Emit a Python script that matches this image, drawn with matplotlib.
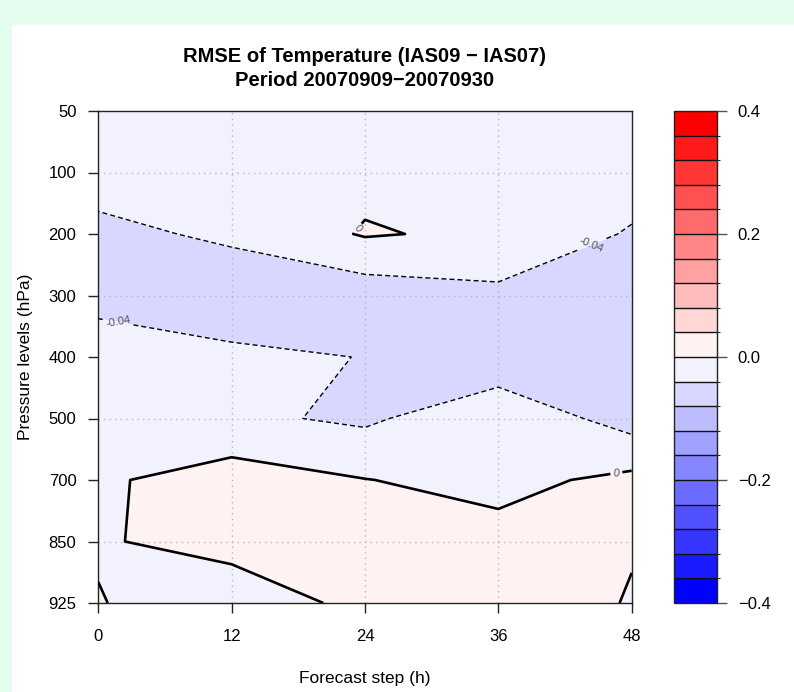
import numpy as np
import matplotlib
matplotlib.use("Agg")
import matplotlib.pyplot as plt
from matplotlib.colors import ListedColormap, BoundaryNorm
from matplotlib.patches import Rectangle

plt.rcParams['font.family'] = ['Liberation Sans', 'DejaVu Sans']

# ---------------- data ----------------
forecast_steps = [0, 12, 24, 36, 48]
pressure_levels = [50, 100, 200, 300, 400, 500, 700, 850, 925]
# RMSE difference (IAS09 - IAS07); rows = pressure levels, columns = forecast steps
rmse_diff = [
    [-0.0200, -0.0200, -0.0200, -0.0200, -0.0200],
    [-0.0250, -0.0200, -0.0110, -0.0200, -0.0200],
    [-0.0487, -0.0340,  0.0033, -0.0077, -0.0438],
    [-0.0500, -0.0620, -0.0627, -0.0491, -0.0600],
    [-0.0235, -0.0330, -0.0408, -0.0700, -0.0600],
    [-0.0200, -0.0320, -0.0470, -0.0088, -0.0576],
    [-0.0059,  0.0188,  0.0010, -0.0121,  0.0102],
    [-0.00485, 0.0194,  0.0200,  0.0136,  0.00208],
    [ 0.0025, -0.0330,  0.0150,  0.0200, -0.0020],
]
fill_levels = np.round(np.linspace(-0.4, 0.4, 21), 2)
line_levels = [-0.04, 0.0]
line_labels = {-0.04: '-0.04', 0.0: '0'}
x_ticks = [0, 12, 24, 36, 48]
cbar_ticks = [-0.4, -0.2, 0.0, 0.2, 0.4]
cbar_ticklabels = ['\u22120.4', '\u22120.2', '0.0', '0.2', '0.4']
title_lines = ['RMSE of Temperature (IAS09 \u2212 IAS07)', 'Period 20070909\u221220070930']

# ---------------- colours (blue - white - red ramp, 20 steps) ----------------
cols = []
for k in range(20):
    t = k / 19
    if t < 0.5:
        f = 2 * t
        cols.append((f, f, 1.0))
    else:
        f = 2 * (1 - t)
        cols.append((1.0, f, f))
cmap = ListedColormap(cols)
norm = BoundaryNorm(fill_levels, cmap.N)

W, H = 794, 692
fig = plt.figure(figsize=(W / 100, H / 100), dpi=100, facecolor='#e4fdee')
fig.patches.append(Rectangle((12 / W, 0), 1 - 12 / W, 667 / H, transform=fig.transFigure,
                             facecolor='white', edgecolor='none', zorder=-10))

def px_axes(l, t, r, b):
    return fig.add_axes([l / W, 1 - b / H, (r - l) / W, (b - t) / H])

ax = px_axes(98.3, 111, 631.7, 603)
cax = px_axes(674.3, 111, 716.7, 603)

yidx = np.arange(1, len(pressure_levels) + 1)
X, Y = np.meshgrid(forecast_steps, yidx)
Z = np.array(rmse_diff)

cf = ax.contourf(X, Y, Z, levels=fill_levels, cmap=cmap, norm=norm, algorithm='mpl2005')

# grid (dotted)
for xv in [12, 24, 36]:
    ax.axvline(xv, color='#b8b8b8', lw=1.0, ls=(0, (1, 3)), zorder=2)
for yv in [2, 4, 6, 8]:
    ax.axhline(yv, color='#b8b8b8', lw=1.0, ls=(0, (1, 3)), zorder=2)

cs = ax.contour(X, Y, Z, levels=line_levels, colors='black',
                linewidths=[1.0, 1.9], linestyles=[(0, (3.6, 2.2)), 'solid'], zorder=3)
ax.clabel(cs, levels=line_levels, fmt=line_labels, inline=True, inline_spacing=3,
          fontsize=8, colors='#555555',
          manual=[(1.8, 4.41), (44.3, 3.13), (23.1, 2.87), (46.6, 6.86)])

ax.set_xlim(0, 48)
ax.set_ylim(len(pressure_levels), 1)
ax.set_xticks(x_ticks)
ax.set_xticklabels([str(v) for v in x_ticks])
ax.set_yticks(yidx)
ax.set_yticklabels([str(p) for p in pressure_levels])
ax.tick_params(axis='both', direction='out', length=7.2, width=1, labelsize=12, color='#222222')
ax.tick_params(axis='x', pad=11.5)
ax.tick_params(axis='y', pad=8.5)
for s in ax.spines.values():
    s.set_linewidth(1)
    s.set_color('#222222')

cb = fig.colorbar(cf, cax=cax, ticks=cbar_ticks, drawedges=True)
cb.set_ticklabels(cbar_ticklabels)
cb.outline.set_linewidth(1)
cb.outline.set_edgecolor('#222222')
cb.dividers.set_color('#111111')
cb.dividers.set_linewidth(1)
cax.tick_params(direction='out', length=7.2, width=1, color='#555555', labelsize=12, pad=8)

fig.text(364.5 / W, 1 - 57 / H, title_lines[0], ha='center', va='center',
         fontsize=14.5, fontweight='bold')
fig.text(364.5 / W, 1 - 81 / H, title_lines[1], ha='center', va='center',
         fontsize=14.5, fontweight='bold')
fig.text(364.5 / W, 1 - 678 / H, 'Forecast step (h)', ha='center', va='center', fontsize=12.5)
fig.text(26 / W, 1 - 357 / H, 'Pressure levels (hPa)', ha='center', va='center',
         rotation=90, fontsize=12.5)

fig.savefig('out.png', dpi=100, facecolor=fig.get_facecolor())
